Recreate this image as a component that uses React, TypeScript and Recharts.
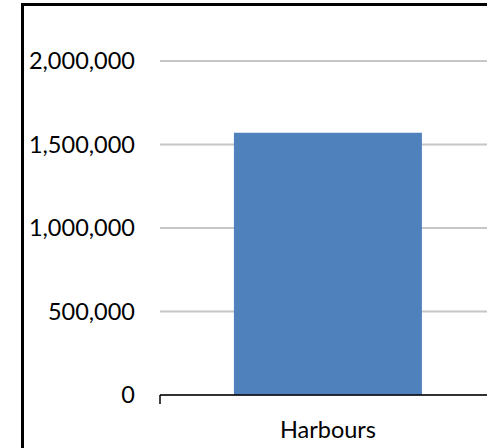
import { Bar, BarChart, CartesianGrid, XAxis, YAxis } from "recharts";

const categories = ["Harbours"];
const values = [1570000];
const yTicks = [0, 500000, 1000000, 1500000, 2000000];

const data = categories.map((name, i) => ({ name, value: values[i] }));

const fmt = (v: number) => v.toLocaleString("en-US");
const font = { fontSize: 23.5, fontFamily: "Lato", fill: "#000" };

// Excel style: tick mark sits on the category boundary, label in the middle
function CatTick(props: any) {
  const { x, y, payload } = props;
  const half = payload?.offset ?? 0;
  return (
    <g>
      <line x1={x - half} y1={y - 10} x2={x - half} y2={y - 1} stroke="#000" strokeWidth={1.5} />
      <text x={x} y={y + 16} dy="0.71em" textAnchor="middle" {...font}>
        {payload.value}
      </text>
    </g>
  );
}

export default function App() {
  return (
    <div style={{ position: "fixed", left: 0, top: 0, width: 487, height: 448, overflow: "hidden", background: "#fff" }}>
      <div
        style={{
          position: "absolute",
          left: 21,
          top: 3,
          width: 600,
          height: 600,
          border: "3px solid #000",
        }}
      />
      <div style={{ position: "absolute", left: 0, top: 0 }}>
        <BarChart
          width={500}
          height={448}
          data={data}
          margin={{ top: 61, right: 4, bottom: 0, left: 0 }}
          barCategoryGap="22%"
        >
          <CartesianGrid vertical={false} stroke="#c6c6c6" strokeWidth={2} />
          <YAxis
            width={160}
            domain={[0, 2000000]}
            ticks={yTicks}
            tickFormatter={fmt}
            axisLine={false}
            tickLine={false}
            tickSize={6}
            tickMargin={19}
            tick={font}
          />
          <XAxis
            dataKey="name"
            height={53}
            stroke="#000"
            strokeWidth={1.5}
            tickLine={false}
            tickSize={8}
            tick={<CatTick />}
          />
          <Bar dataKey="value" fill="#4f81bd" isAnimationActive={false} />
        </BarChart>
      </div>
    </div>
  );
}
